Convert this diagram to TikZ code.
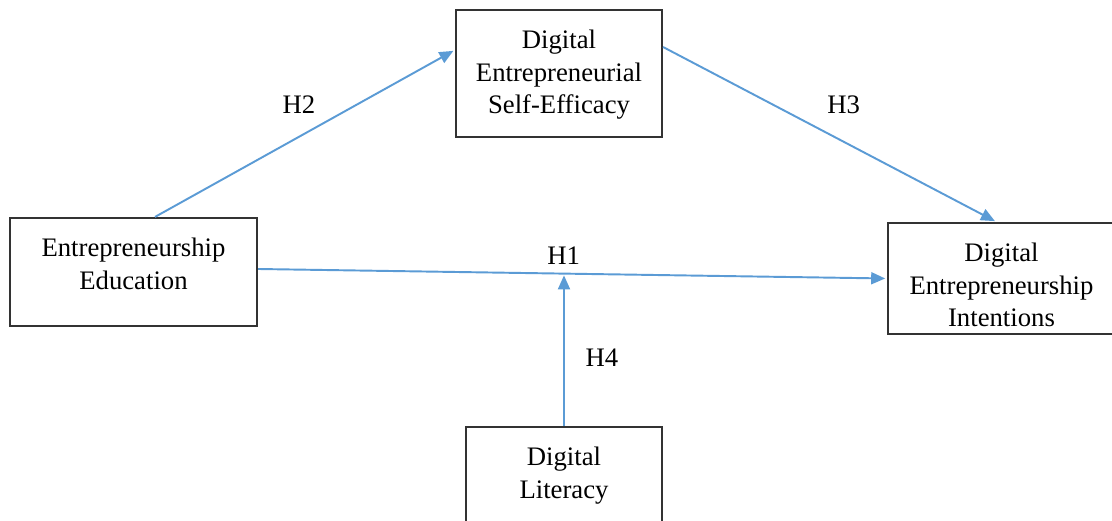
\documentclass[tikz,border=0pt]{standalone}
\usepackage{fontspec}
\setmainfont{Liberation Serif}
\usetikzlibrary{arrows.meta,positioning,calc}
\definecolor{linkblue}{HTML}{5B9BD5}
\definecolor{inkgray}{HTML}{333333}

\begin{document}
\begin{tikzpicture}[
    font=\fontsize{15.2}{18.5}\selectfont,
    >={Triangle[length=2.8mm, width=2.4mm]},
    box/.style={draw=inkgray, line width=1.2pt, inner sep=0pt},
    boxtext/.style={anchor=north, align=center, inner sep=0pt, yshift=-4.2mm},
    link/.style={->, draw=linkblue, line width=1.1pt, shorten >=1pt},
    hyp/.style={inner sep=0pt},
]
    \useasboundingbox (0, 0) rectangle (22.24, 10.42);

    % constructs
    \node[box, minimum width=49.4mm, minimum height=21.6mm,
          label={[boxtext]north:Entrepreneurship\\Education}] (ee) at (2.67, 4.98) {};
    \node[box, minimum width=41.2mm, minimum height=25.4mm,
          label={[boxtext]north:Digital\\Entrepreneurial\\Self-Efficacy}] (dese) at (11.18, 8.95) {};
    \node[box, minimum width=45.4mm, minimum height=22.2mm,
          label={[boxtext]north:Digital\\Entrepreneurship\\Intentions}] (dei) at (20.03, 4.85) {};
    \node[box, minimum width=39.2mm, minimum height=23.6mm,
          label={[boxtext]north:Digital\\Literacy}] (dl) at (11.28, 0.70) {};

    % hypothesised paths
    \draw[link] ([xshift=4.3mm]ee.north) -- ([yshift=4.7mm]dese.west)
        node[hyp, midway, xshift=-1.2mm, yshift=5.8mm] {H2};
    \draw[link] ([yshift=5.3mm]dese.east) -- ([xshift=-1mm]dei.north)
        node[hyp, midway, xshift=2.8mm, yshift=5.9mm] {H3};
    \draw[link] ([yshift=0.6mm]ee.east) -- (dei.west)
        coordinate[pos=0.486] (h1mid)
        node[hyp, pos=0.486, yshift=3.5mm] {H1};

    % moderation onto the direct path
    \draw[link] (dl.north) -- (dl.north |- h1mid)
        node[hyp, midway, xshift=7.6mm, yshift=-1.5mm] {H4};

\end{tikzpicture}
\end{document}
